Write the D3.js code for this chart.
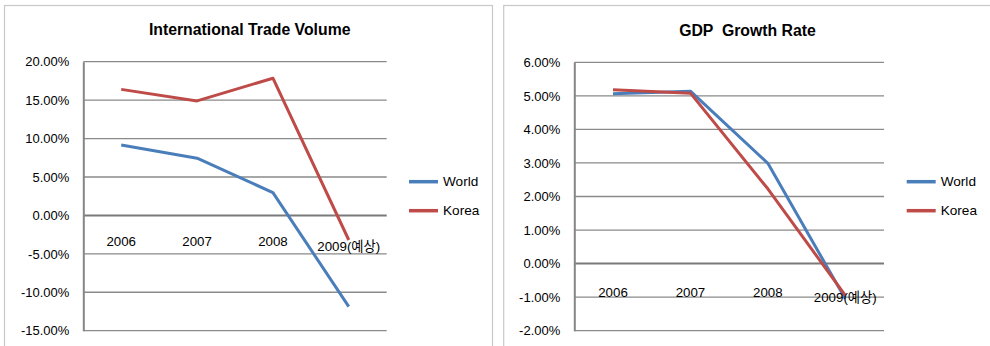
<!DOCTYPE html>
<html><head><meta charset="utf-8">
<script src="https://cdn.jsdelivr.net/npm/d3@7"></script>
<style>body{margin:0;background:#fff}svg{display:block}.ttl{white-space:pre}</style>
</head><body>
<svg id="c" width="990" height="346"></svg>
<script>
const categories = ["2006", "2007", "2008", "2009(예상)"];
const seriesNames = ["World", "Korea"];
const tradeWorld = [0.0917, 0.0744, 0.0297, -0.1187];
const tradeKorea = [0.1640, 0.1490, 0.1785, -0.0320];
const gdpWorld = [0.0506, 0.0514, 0.0299, -0.0105];
const gdpKorea = [0.0518, 0.0508, 0.0223, -0.0095];
const tradeTicks = [0.20, 0.15, 0.10, 0.05, 0, -0.05, -0.10, -0.15];
const gdpTicks = [0.06, 0.05, 0.04, 0.03, 0.02, 0.01, 0, -0.01, -0.02];
const colors = ["#4A7EBB", "#BE4B48"];

const svg = d3.select("#c");
const font = "'Liberation Sans', 'Noto Sans CJK KR', sans-serif";

function panel(cfg) {
  const g = svg.append("g");
  g.append("rect").attr("x", cfg.box[0]).attr("y", cfg.box[1])
    .attr("width", cfg.box[2]).attr("height", cfg.box[3])
    .attr("fill", "#fff").attr("stroke", "#c8c8c8").attr("stroke-width", 1.2);
  g.append("text").attr("class", "ttl").attr("x", cfg.titleX).attr("y", cfg.titleY)
    .attr("text-anchor", "middle").attr("font-family", font)
    .attr("font-weight", "bold").attr("font-size", 15.8).attr("fill", "#000")
    .text(cfg.title);
  const x = d3.scaleBand().domain(categories).range([cfg.left, cfg.right]);
  const y = d3.scaleLinear().domain(cfg.domain).range([cfg.bottom, cfg.top]);
  // gridlines
  g.append("g").selectAll("line").data(cfg.ticks).join("line")
    .attr("x1", cfg.left).attr("x2", cfg.right)
    .attr("y1", d => y(d)).attr("y2", d => y(d))
    .attr("stroke", d => d === 0 ? "#7a7a7a" : "#8a8a8a")
    .attr("stroke-width", d => d === 0 ? 2 : 1.3);
  // y axis
  const ya = d3.axisLeft(y).tickValues(cfg.ticks).tickSize(0).tickPadding(14)
    .tickFormat(d => (d * 100).toFixed(2) + "%");
  const yg = g.append("g").attr("transform", `translate(${cfg.left},0)`).call(ya);
  yg.select(".domain").attr("stroke", "#868686").attr("stroke-width", 2);
  yg.selectAll("text").attr("font-family", font).attr("font-size", 13).attr("fill", "#000");
  // x labels at zero line
  const xa = d3.axisBottom(x).tickSize(0).tickPadding(0);
  const xg = g.append("g").attr("transform", `translate(0,${y(0)})`).call(xa);
  xg.select(".domain").remove();
  xg.selectAll("text").attr("font-family", font).attr("font-size", 13.3).attr("fill", "#000")
    .attr("dy", null).attr("y", (d, i) => i === categories.length - 1 ? cfg.labOff + 5 : cfg.labOff);
  // lines
  const line = d3.line().x((d, i) => x(categories[i]) + x.bandwidth() / 2).y(d => y(d));
  cfg.series.forEach((s, i) => {
    g.append("path").datum(s).attr("d", line).attr("fill", "none")
      .attr("stroke", colors[i]).attr("stroke-width", 3).attr("stroke-linejoin", "round");
  });
  xg.raise();
  // legend
  seriesNames.forEach((n, i) => {
    const ly = cfg.legY + i * 29;
    g.append("line").attr("x1", cfg.legX).attr("x2", cfg.legX + 29)
      .attr("y1", ly).attr("y2", ly).attr("stroke", colors[i]).attr("stroke-width", 3.5);
    g.append("text").attr("x", cfg.legX + 34).attr("y", ly).attr("dy", "0.35em")
      .attr("font-family", font).attr("font-size", 13.6).attr("fill", "#000").text(n);
  });
}

panel({
  box: [4.5, 5.5, 488, 350], title: "International Trade Volume", titleX: 249.7, titleY: 35,
  left: 83.3, right: 386.7, top: 61.7, bottom: 330.7, domain: [-0.15, 0.20], ticks: tradeTicks,
  series: [tradeWorld, tradeKorea], labOff: 31, legX: 409, legY: 181.7
});
panel({
  box: [503.7, 5.5, 495, 350], title: "GDP  Growth Rate", titleX: 747.5, titleY: 36,
  left: 574.3, right: 884, top: 62.3, bottom: 330.7, domain: [-0.02, 0.06], ticks: gdpTicks,
  series: [gdpWorld, gdpKorea], labOff: 33, legX: 906.7, legY: 181.7
});
</script>
</body></html>
